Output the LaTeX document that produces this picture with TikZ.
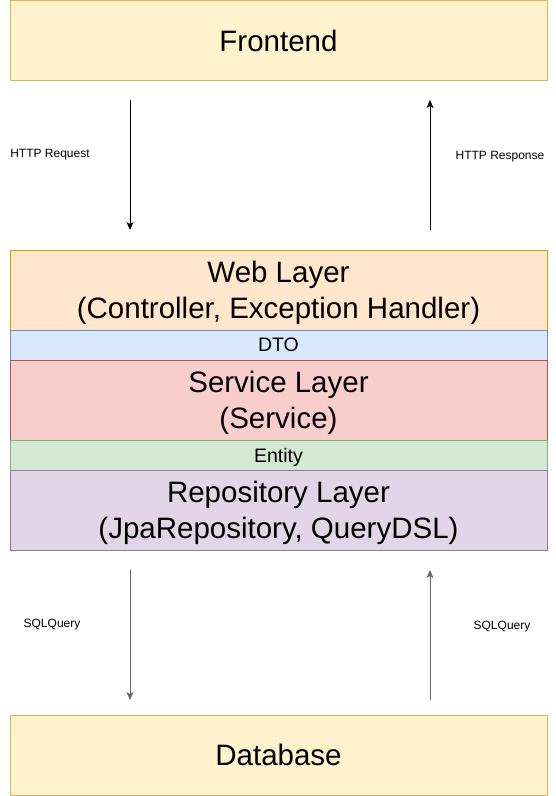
\documentclass[tikz,border=0pt]{standalone}
\usepackage{fontspec}
\setmainfont{Liberation Sans}
\usetikzlibrary{arrows.meta,positioning}
\definecolor{yelfill}{HTML}{FFF2CC}
\definecolor{yeldraw}{HTML}{D6B656}
\definecolor{orgfill}{HTML}{FFE6CC}
\definecolor{orgdraw}{HTML}{D79B00}
\definecolor{blufill}{HTML}{DAE8FC}
\definecolor{bludraw}{HTML}{6C8EBF}
\definecolor{redfill}{HTML}{F8CECC}
\definecolor{reddraw}{HTML}{B85450}
\definecolor{grnfill}{HTML}{D5E8D4}
\definecolor{grndraw}{HTML}{82B366}
\definecolor{purfill}{HTML}{E1D5E7}
\definecolor{purdraw}{HTML}{9673A6}

\begin{document}
\begin{tikzpicture}[x=1pt,y=-1pt,
  layer/.style={draw,line width=1pt,minimum width=537pt,minimum height=80pt,inner sep=0pt,outer sep=0pt,text depth=0pt,align=center,font=\fontsize{29.5}{35.5}\selectfont},
  thinlayer/.style={layer,minimum height=30pt,font=\fontsize{19.5}{23}\selectfont},
  lbl/.style={text depth=0pt,font=\fontsize{12}{14}\selectfont},
  flow/.style={line width=1pt,-{Stealth[length=8pt,width=7pt,inset=2pt]}}]
\useasboundingbox (0,0) rectangle (555,796);

\node (front) at (278.5,40.5) [layer,fill=yelfill,draw=yeldraw] {Frontend};
\node (web) at (278.5,290) [layer,fill=orgfill,draw=orgdraw] {Web Layer\\(Controller, Exception Handler)};
\node (dto) at (278.5,345) [thinlayer,fill=blufill,draw=bludraw] {DTO};
\node (service) at (278.5,400) [layer,fill=redfill,draw=reddraw] {Service Layer\\(Service)};
\node (entity) at (278.5,455) [thinlayer,fill=grnfill,draw=grndraw] {Entity};
\node (repo) at (278.5,510) [layer,fill=purfill,draw=purdraw] {Repository Layer\\(JpaRepository, QueryDSL)};
\node (db) at (278.5,755) [layer,fill=yelfill,draw=yeldraw] {Database};

\node (reqlbl) at (50,153) [lbl] {HTTP Request};
\node (reslbl) at (500,155) [lbl] {HTTP Response};
\node (sqldown) at (52,623) [lbl] {SQLQuery};
\node (sqlup) at (502,625) [lbl] {SQLQuery};

\draw[flow,shorten <=19.5pt,shorten >=20pt] ([xshift=120pt]front.south west) -- ([xshift=120pt]web.north west);
\draw[flow,shorten <=20pt,shorten >=19.5pt] ([xshift=420pt]web.north west) -- ([xshift=420pt]front.south west);
\draw[flow,draw=black!60,shorten <=20pt,shorten >=15pt] ([xshift=120pt]repo.south west) -- ([xshift=120pt]db.north west);
\draw[flow,draw=black!60,shorten <=15pt,shorten >=20pt] ([xshift=420pt]db.north west) -- ([xshift=420pt]repo.south west);

\end{tikzpicture}
\end{document}
